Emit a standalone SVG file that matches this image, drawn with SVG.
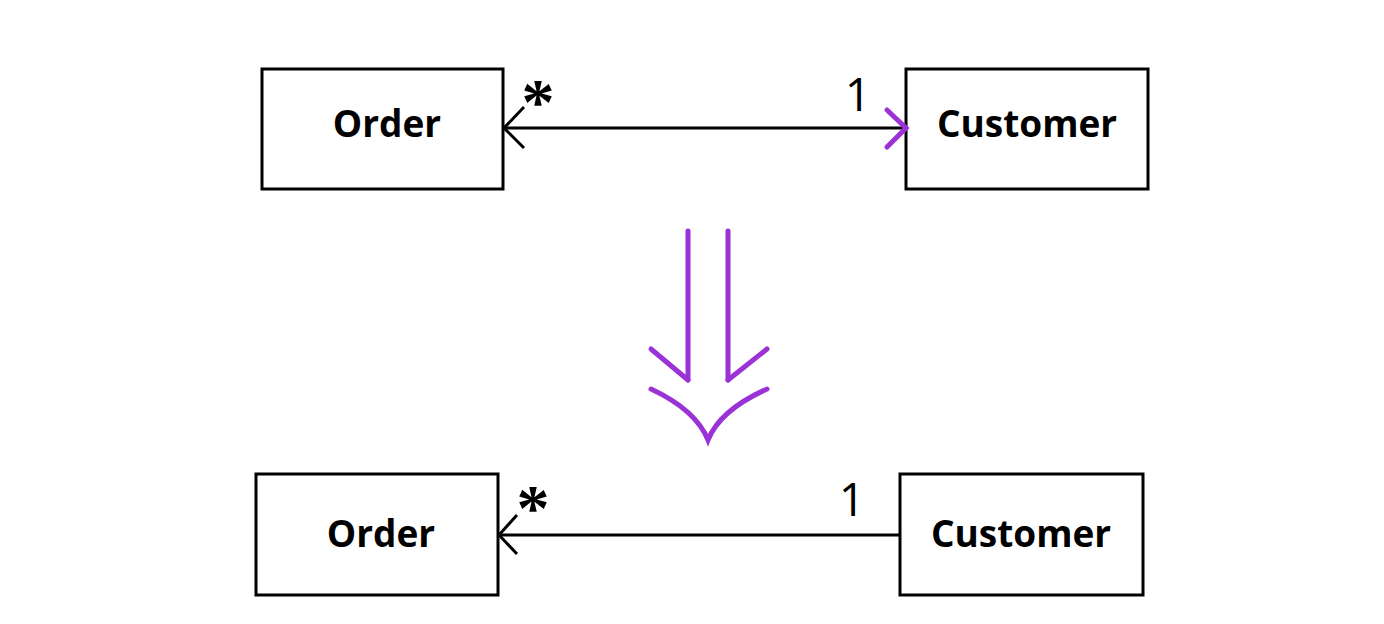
<svg xmlns="http://www.w3.org/2000/svg" width="1384" height="624" viewBox="0 0 1384 624">
<style>
.box{fill:#fff;stroke:#000;stroke-width:3}
.lbl{font-family:"Open Sans",sans-serif;font-weight:bold;font-size:37px;fill:#000;text-anchor:middle}
.mult{font-family:"Open Sans",sans-serif;font-size:46px;fill:#000;text-anchor:middle}
.star{font-family:"Liberation Serif",serif;font-weight:bold;font-size:66px;fill:#000;text-anchor:middle}
.ln{fill:none;stroke:#000;stroke-width:3}
.pu{fill:none;stroke:#9a32d6;stroke-width:5;stroke-linecap:round}
</style>
<rect width="1384" height="624" fill="#fff"/>
<g id="order-top"><rect class="box" x="262" y="69" width="241" height="120"/><text class="lbl" x="387" y="137">Order</text></g>
<g id="customer-top"><rect class="box" x="906" y="69" width="242" height="120"/><text class="lbl" x="1027" y="137">Customer</text></g>
<g id="order-bottom"><rect class="box" x="256" y="474" width="242" height="121"/><text class="lbl" x="381" y="547">Order</text></g>
<g id="customer-bottom"><rect class="box" x="900" y="474" width="243" height="121"/><text class="lbl" x="1021" y="547">Customer</text></g>
<g id="connectors">
<line class="ln" x1="504" y1="128" x2="905" y2="128"/>
<polyline class="ln" points="524,107 504,128 524,148"/>
<polyline class="pu" points="887,110 906,128 887,147" stroke-width="4"/>
<text class="star" x="538" y="124">*</text>
<text class="mult" x="858" y="111">1</text>
<line class="ln" x1="499" y1="535" x2="900" y2="535"/>
<polyline class="ln" points="517,515 499,535 517,554"/>
<text class="star" x="533" y="530">*</text>
<text class="mult" x="852" y="516">1</text>
</g>
<g id="transform-arrow">
<line class="pu" x1="688" y1="231" x2="688" y2="380"/>
<line class="pu" x1="728" y1="231" x2="728" y2="380"/>
<polyline class="pu" points="651,349 688,380"/>
<polyline class="pu" points="767,349 728,380"/>
<path class="pu" d="M651,389 Q696,410 708,440 Q720,410 767,389"/>
</g>
</svg>
